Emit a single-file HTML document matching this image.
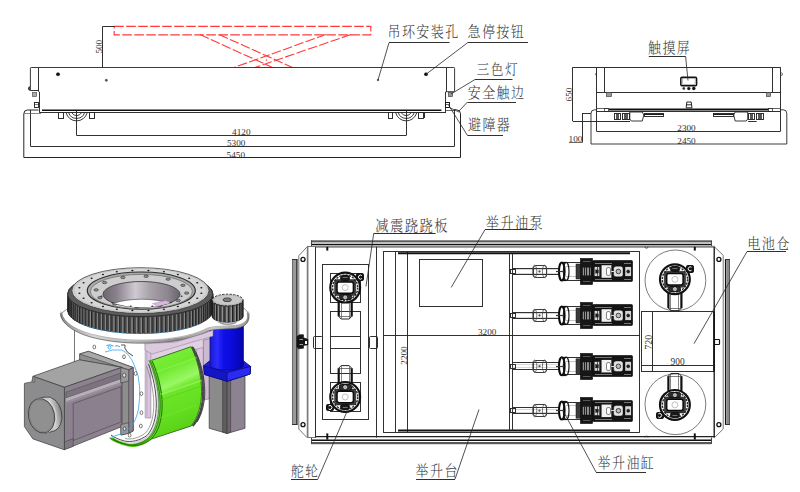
<!DOCTYPE html>
<html lang="zh-CN">
<head>
<meta charset="utf-8">
<title>AGV 举升车外形尺寸图</title>
<style>
html,body{margin:0;padding:0;background:#fff;}
body{width:800px;height:492px;overflow:hidden;font-family:"Liberation Serif","Noto Serif CJK SC",serif;}
svg{display:block;}
text.n{font-family:"Liberation Serif","Noto Serif CJK SC",serif;fill:#333;}
text.z{font-family:"Liberation Serif","Noto Serif CJK SC",serif;fill:#3a3a3a;font-weight:300;}
</style>
</head>
<body>
<svg width="800" height="492" viewBox="0 0 800 492">
<rect width="800" height="492" fill="#ffffff"/>
<g id="elev">
<rect x="114.2" y="26.4" width="256.6" height="8.5" fill="none" stroke="#ff3a3a" stroke-width="1.15" stroke-dasharray="9.6 2.4"/>
<line x1="200.00" y1="34.50" x2="272.50" y2="67.50" stroke="#ff3a3a" stroke-width="1.1" stroke-dasharray="9.6 2.4"/>
<line x1="219.00" y1="34.50" x2="292.50" y2="67.50" stroke="#ff3a3a" stroke-width="1.1" stroke-dasharray="9.6 2.4"/>
<line x1="326.00" y1="34.50" x2="234.00" y2="67.50" stroke="#ff3a3a" stroke-width="1.1" stroke-dasharray="9.6 2.4"/>
<line x1="351.00" y1="34.50" x2="255.00" y2="67.50" stroke="#ff3a3a" stroke-width="1.1" stroke-dasharray="9.6 2.4"/>
<circle cx="266.50" cy="60.00" r="0.60" fill="#ff3a3a" stroke="#ff3a3a" stroke-width="0.3" />
<line x1="102.50" y1="26.40" x2="102.50" y2="67.50" stroke="#262626" stroke-width="0.95" />
<line x1="102.50" y1="26.50" x2="114.50" y2="26.50" stroke="#262626" stroke-width="0.95" />
<text x="101.80" y="46.70" font-size="9.2" text-anchor="middle" class="n" transform="rotate(-90 101.80 46.70)" >500</text>
<path d="M30.4 90.4 L30.4 68.2 Q30.4 67.5 31.2 67.5 L453.8 67.5 Q454.6 67.5 454.6 68.3 L454.6 91 Q454.6 91.7 453.8 91.7 L446 91.7" fill="none" stroke="#262626" stroke-width="0.9" />
<line x1="38.50" y1="67.50" x2="38.50" y2="91.70" stroke="#262626" stroke-width="0.95" />
<line x1="39.50" y1="91.70" x2="39.50" y2="112.80" stroke="#262626" stroke-width="0.95" />
<line x1="30.40" y1="90.50" x2="38.50" y2="90.50" stroke="#262626" stroke-width="0.95" />
<line x1="446.50" y1="67.50" x2="446.50" y2="91.70" stroke="#262626" stroke-width="0.95" />
<line x1="445.50" y1="91.70" x2="445.50" y2="112.80" stroke="#262626" stroke-width="0.95" />
<path d="M30.4 86.6 q-2.6 0.6 -1.8 2.6 q0.6 1.2 1.8 1.2" fill="#555" stroke="#262626" stroke-width="1.0" />
<rect x="32.50" y="92.50" width="4.00" height="4.00" rx="0" fill="#aaa" stroke="#555" stroke-width="0.7" />
<rect x="34.50" y="102.50" width="4.00" height="5.00" rx="0" fill="none" stroke="#262626" stroke-width="0.95" />
<line x1="34.80" y1="104.50" x2="38.40" y2="104.50" stroke="#262626" stroke-width="0.6" />
<rect x="448.50" y="92.50" width="4.00" height="4.00" rx="0" fill="#999" stroke="#444" stroke-width="0.7" />
<rect x="445.50" y="102.50" width="4.00" height="5.00" rx="0" fill="none" stroke="#111" stroke-width="0.95" />
<line x1="445.80" y1="104.50" x2="449.60" y2="104.50" stroke="#262626" stroke-width="0.7" />
<path d="M449.6 107.6 L459 112" fill="none" stroke="#262626" stroke-width="0.8" />
<circle cx="58.00" cy="74.30" r="1.80" fill="#111" stroke="#262626" stroke-width="0.2" />
<circle cx="106.30" cy="80.20" r="1.20" fill="#555" stroke="#262626" stroke-width="0.2" />
<circle cx="378.00" cy="80.00" r="0.90" fill="#333" stroke="#262626" stroke-width="0.2" />
<circle cx="426.00" cy="74.30" r="1.80" fill="#111" stroke="#262626" stroke-width="0.2" />
<line x1="42.00" y1="110.20" x2="441.40" y2="110.20" stroke="#111" stroke-width="1.5" />
<line x1="39.60" y1="112.50" x2="446.00" y2="112.50" stroke="#262626" stroke-width="0.95" />
<path d="M38.5 110 L27.6 110 Q23.8 110 23.8 113.8 L23.8 157.5 L460.5 157.5 L460.5 113.8 Q460.5 110 456.6 109.8 L454.6 109.6" fill="none" stroke="#262626" stroke-width="1.0" />
<line x1="30.50" y1="110.00" x2="30.50" y2="146.20" stroke="#262626" stroke-width="0.95" />
<line x1="24.00" y1="113.50" x2="41.00" y2="113.50" stroke="#555" stroke-width="0.7" />
<line x1="454.50" y1="109.50" x2="454.50" y2="146.20" stroke="#262626" stroke-width="0.95" />
<line x1="30.40" y1="146.50" x2="454.60" y2="146.50" stroke="#262626" stroke-width="0.95" />
<line x1="446.00" y1="110.50" x2="454.60" y2="110.50" stroke="#262626" stroke-width="0.7" />
<path d="M66.07 112.8 A10.9 10.9 0 0 0 87.13 112.8" fill="none" stroke="#262626" stroke-width="0.9" />
<path d="M68.68 112.8 A8.4 8.4 0 0 0 84.52 112.8" fill="none" stroke="#262626" stroke-width="0.9" />
<path d="M71.75 112.8 A5.6 5.6 0 0 0 81.45 112.8" fill="none" stroke="#262626" stroke-width="0.9" />
<rect x="58.50" y="112.50" width="5.00" height="6.00" rx="0" fill="none" stroke="#262626" stroke-width="0.95" />
<rect x="89.50" y="112.50" width="5.00" height="6.00" rx="0" fill="none" stroke="#262626" stroke-width="0.95" />
<line x1="94.50" y1="112.80" x2="94.50" y2="118.00" stroke="#262626" stroke-width="0.95" />
<line x1="76.50" y1="110.50" x2="76.50" y2="135.50" stroke="#262626" stroke-width="0.95" />
<path d="M395.67 112.8 A10.9 10.9 0 0 0 416.73 112.8" fill="none" stroke="#262626" stroke-width="0.9" />
<path d="M398.28 112.8 A8.4 8.4 0 0 0 414.12 112.8" fill="none" stroke="#262626" stroke-width="0.9" />
<path d="M401.35 112.8 A5.6 5.6 0 0 0 411.05 112.8" fill="none" stroke="#262626" stroke-width="0.9" />
<rect x="388.50" y="112.50" width="4.00" height="6.00" rx="0" fill="none" stroke="#262626" stroke-width="0.95" />
<rect x="418.50" y="112.50" width="5.00" height="6.00" rx="0" fill="none" stroke="#262626" stroke-width="0.95" />
<line x1="424.50" y1="112.80" x2="424.50" y2="118.00" stroke="#262626" stroke-width="0.95" />
<line x1="406.50" y1="110.50" x2="406.50" y2="135.50" stroke="#262626" stroke-width="0.95" />
<line x1="76.60" y1="135.50" x2="406.20" y2="135.50" stroke="#262626" stroke-width="0.95" />
<text x="241.30" y="135.10" font-size="9.2" text-anchor="middle" class="n" >4120</text>
<text x="236.20" y="146.40" font-size="9.2" text-anchor="middle" class="n" >5300</text>
<text x="235.80" y="157.80" font-size="9.2" text-anchor="middle" class="n" >5450</text>
<text transform="translate(387.40 37.20) scale(0.9 1)" font-size="14.50" letter-spacing="1.61" class="z">吊环安装孔</text>
<text transform="translate(467.40 37.20) scale(0.9 1)" font-size="14.50" letter-spacing="1.61" class="z">急停按钮</text>
<line x1="389.00" y1="42.50" x2="449.50" y2="42.50" stroke="#262626" stroke-width="0.95" />
<line x1="389.00" y1="42.80" x2="378.00" y2="80.00" stroke="#262626" stroke-width="0.8" />
<line x1="467.50" y1="42.50" x2="528.00" y2="42.50" stroke="#262626" stroke-width="0.95" />
<line x1="467.50" y1="42.80" x2="426.00" y2="74.30" stroke="#262626" stroke-width="0.8" />
<text transform="translate(476.60 74.20) scale(0.9 1)" font-size="14.20" letter-spacing="1.58" class="z">三色灯</text>
<line x1="475.00" y1="79.50" x2="512.50" y2="79.50" stroke="#262626" stroke-width="0.95" />
<line x1="475.00" y1="79.50" x2="451.00" y2="94.00" stroke="#262626" stroke-width="0.8" />
<text transform="translate(467.80 97.60) scale(0.9 1)" font-size="14.40" letter-spacing="1.60" class="z">安全触边</text>
<line x1="467.50" y1="102.50" x2="516.00" y2="102.50" stroke="#262626" stroke-width="0.95" />
<line x1="467.50" y1="102.00" x2="459.00" y2="111.00" stroke="#262626" stroke-width="0.8" />
<text transform="translate(468.00 130.20) scale(0.9 1)" font-size="14.40" letter-spacing="1.60" class="z">避障器</text>
<line x1="467.50" y1="135.50" x2="503.00" y2="135.50" stroke="#262626" stroke-width="0.95" />
<line x1="467.50" y1="135.50" x2="448.50" y2="105.00" stroke="#262626" stroke-width="0.8" />
</g>
<g id="end">
<line x1="572.50" y1="67.30" x2="572.50" y2="121.00" stroke="#262626" stroke-width="0.95" />
<line x1="572.70" y1="67.50" x2="780.60" y2="67.50" stroke="#262626" stroke-width="0.95" />
<line x1="572.70" y1="121.50" x2="630.00" y2="121.50" stroke="#262626" stroke-width="0.95" />
<text x="572.00" y="94.50" font-size="9.2" text-anchor="middle" class="n" transform="rotate(-90 572.00 94.50)" >650</text>
<line x1="582.50" y1="113.00" x2="582.50" y2="142.60" stroke="#262626" stroke-width="0.95" />
<line x1="582.00" y1="113.50" x2="591.00" y2="113.50" stroke="#262626" stroke-width="0.95" />
<line x1="569.00" y1="142.50" x2="582.00" y2="142.50" stroke="#262626" stroke-width="0.7" />
<text x="575.50" y="142.30" font-size="9.2" text-anchor="middle" class="n" >100</text>
<line x1="596.50" y1="67.30" x2="596.50" y2="131.20" stroke="#262626" stroke-width="0.95" />
<line x1="780.50" y1="67.30" x2="780.50" y2="131.20" stroke="#262626" stroke-width="0.95" />
<line x1="604.50" y1="67.30" x2="604.50" y2="92.00" stroke="#262626" stroke-width="0.95" />
<line x1="772.50" y1="67.30" x2="772.50" y2="92.00" stroke="#262626" stroke-width="0.95" />
<line x1="596.50" y1="92.50" x2="780.60" y2="92.50" stroke="#262626" stroke-width="0.95" />
<rect x="606.50" y="92.50" width="5.00" height="4.00" rx="0" fill="#9a9a9a" stroke="#444" stroke-width="0.7" />
<rect x="766.50" y="92.50" width="4.00" height="4.00" rx="0" fill="#9a9a9a" stroke="#444" stroke-width="0.7" />
<path d="M596.5 72.5 q-1.6 1.5 0 3.4" fill="none" stroke="#262626" stroke-width="0.8" />
<path d="M781.6 72.5 q1.6 1.5 0 3.4" fill="none" stroke="#262626" stroke-width="0.8" />
<rect x="680.80" y="77.30" width="15.80" height="8.50" rx="1.2" fill="none" stroke="#111" stroke-width="1.5" />
<rect x="682.30" y="78.60" width="12.80" height="5.90" rx="0" fill="none" stroke="#777" stroke-width="0.5" />
<circle cx="683.80" cy="88.40" r="1.20" fill="#333" stroke="#262626" stroke-width="0.3" />
<circle cx="688.80" cy="88.40" r="1.50" fill="#111" stroke="#262626" stroke-width="0.3" />
<circle cx="693.80" cy="88.40" r="1.60" fill="#111" stroke="#262626" stroke-width="0.3" />
<path d="M686.2 107.8 L686.8 102 L691.2 102 L692 107.8 Z M686.6 104.8 L691.6 104.8" fill="none" stroke="#262626" stroke-width="1.0" />
<line x1="608.80" y1="109.40" x2="768.40" y2="109.40" stroke="#111" stroke-width="2.0" />
<line x1="597.00" y1="111.50" x2="780.60" y2="111.50" stroke="#262626" stroke-width="0.95" />
<line x1="597.00" y1="108.50" x2="608.80" y2="108.50" stroke="#262626" stroke-width="0.7" />
<line x1="768.40" y1="108.50" x2="780.60" y2="108.50" stroke="#262626" stroke-width="0.7" />
<rect x="604.50" y="108.50" width="4.00" height="3.00" rx="0" fill="none" stroke="#262626" stroke-width="0.7" />
<rect x="768.50" y="108.50" width="4.00" height="3.00" rx="0" fill="none" stroke="#262626" stroke-width="0.7" />
<path d="M597 109.8 L594.5 109.8 Q591 109.8 591 113.5 L591 144 L786.8 144 L786.8 113.5 Q786.8 109.8 783.3 109.8 L781 109.8" fill="none" stroke="#262626" stroke-width="0.9" />
<line x1="596.50" y1="131.50" x2="780.60" y2="131.50" stroke="#262626" stroke-width="0.95" />
<rect x="614.50" y="113.50" width="6.00" height="6.00" rx="0" fill="none" stroke="#262626" stroke-width="0.95" />
<rect x="616.50" y="113.50" width="2.00" height="6.00" rx="0" fill="#555" stroke="#262626" stroke-width="0.6" />
<rect x="622.50" y="113.50" width="7.00" height="6.00" rx="0" fill="none" stroke="#262626" stroke-width="0.95" />
<rect x="624.50" y="113.50" width="3.00" height="6.00" rx="0" fill="#555" stroke="#262626" stroke-width="0.6" />
<line x1="620.80" y1="121.50" x2="629.30" y2="121.50" stroke="#262626" stroke-width="0.95" />
<path d="M629.80 112 L642.30 112 L643.80 115 L642.30 121 L631.30 121 L629.80 119 Z" fill="none" stroke="#262626" stroke-width="0.9" />
<rect x="644.50" y="113.50" width="19.00" height="3.00" rx="0" fill="none" stroke="#262626" stroke-width="0.95" />
<line x1="644.30" y1="114.50" x2="663.80" y2="114.50" stroke="#111" stroke-width="0.95" />
<rect x="756.50" y="113.50" width="7.00" height="6.00" rx="0" fill="none" stroke="#262626" stroke-width="0.95" />
<rect x="758.50" y="113.50" width="3.00" height="6.00" rx="0" fill="#555" stroke="#262626" stroke-width="0.6" />
<rect x="748.50" y="113.50" width="6.00" height="6.00" rx="0" fill="none" stroke="#262626" stroke-width="0.95" />
<rect x="750.50" y="113.50" width="2.00" height="6.00" rx="0" fill="#555" stroke="#262626" stroke-width="0.6" />
<line x1="756.70" y1="121.50" x2="748.20" y2="121.50" stroke="#262626" stroke-width="0.95" />
<path d="M747.70 112 L735.20 112 L733.70 115 L735.20 121 L746.20 121 L747.70 119 Z" fill="none" stroke="#262626" stroke-width="0.9" />
<rect x="713.50" y="113.50" width="20.00" height="3.00" rx="0" fill="none" stroke="#262626" stroke-width="0.95" />
<line x1="733.20" y1="114.50" x2="713.70" y2="114.50" stroke="#111" stroke-width="0.95" />
<text x="686.50" y="131.00" font-size="9.2" text-anchor="middle" class="n" >2300</text>
<text x="686.50" y="143.60" font-size="9.2" text-anchor="middle" class="n" >2450</text>
<text transform="translate(648.00 52.60) scale(0.9 1)" font-size="14.40" letter-spacing="1.60" class="z">触摸屏</text>
<line x1="648.80" y1="56.50" x2="685.60" y2="56.50" stroke="#262626" stroke-width="0.95" />
<line x1="685.60" y1="56.40" x2="688.00" y2="80.50" stroke="#262626" stroke-width="0.8" />
</g>
<g id="plan">
<rect x="311.20" y="240.30" width="399.80" height="2.10" rx="0" fill="#5a5a5a" stroke="none" stroke-width="0.01" />
<line x1="311.20" y1="244.40" x2="711.00" y2="244.40" stroke="#111" stroke-width="1.5" />
<line x1="311.50" y1="240.30" x2="311.50" y2="246.80" stroke="#444" stroke-width="1.0" />
<line x1="711.50" y1="240.30" x2="711.50" y2="246.80" stroke="#444" stroke-width="1.0" />
<rect x="311.20" y="442.00" width="399.80" height="2.20" rx="0" fill="#5a5a5a" stroke="none" stroke-width="0.01" />
<line x1="311.20" y1="440.30" x2="711.00" y2="440.30" stroke="#111" stroke-width="1.6" />
<line x1="311.50" y1="437.60" x2="311.50" y2="444.00" stroke="#444" stroke-width="1.0" />
<line x1="711.50" y1="437.60" x2="711.50" y2="444.00" stroke="#444" stroke-width="1.0" />
<path d="M307 246.9 L298.8 255.7 L298.8 429 L307 437.6" fill="none" stroke="#777" stroke-width="1.0" />
<path d="M714.5 246.9 L723.2 255.3 L723.2 429 L714.5 437.6" fill="none" stroke="#777" stroke-width="1.0" />
<line x1="307.00" y1="246.50" x2="315.50" y2="246.50" stroke="#777" stroke-width="1.0" />
<line x1="307.00" y1="437.50" x2="315.50" y2="437.50" stroke="#777" stroke-width="1.0" />
<line x1="315.50" y1="246.70" x2="714.50" y2="246.70" stroke="#858585" stroke-width="2.0" />
<line x1="315.50" y1="436.60" x2="714.50" y2="436.60" stroke="#222" stroke-width="1.3" />
<line x1="307.60" y1="246.80" x2="307.60" y2="437.60" stroke="#7a7a7a" stroke-width="1.7" />
<line x1="315.50" y1="246.80" x2="315.50" y2="437.60" stroke="#222" stroke-width="0.95" />
<line x1="714.20" y1="246.80" x2="714.20" y2="437.60" stroke="#111" stroke-width="1.3" />
<rect x="292.00" y="259.20" width="4.40" height="165.50" rx="0" fill="#9a9a9a" stroke="none" stroke-width="0.01" />
<line x1="292.50" y1="259.20" x2="292.50" y2="424.70" stroke="#666" stroke-width="0.95" />
<line x1="296.90" y1="259.20" x2="296.90" y2="424.70" stroke="#111" stroke-width="1.3" />
<line x1="292.00" y1="259.50" x2="297.50" y2="259.50" stroke="#333" stroke-width="1.0" />
<line x1="292.00" y1="424.50" x2="297.50" y2="424.50" stroke="#333" stroke-width="1.0" />
<rect x="726.30" y="259.20" width="3.60" height="165.50" rx="0" fill="#8a8a8a" stroke="none" stroke-width="0.01" />
<line x1="725.50" y1="259.20" x2="725.50" y2="424.70" stroke="#111" stroke-width="1.2" />
<line x1="729.50" y1="259.20" x2="729.50" y2="424.70" stroke="#555" stroke-width="0.95" />
<line x1="725.00" y1="259.50" x2="730.00" y2="259.50" stroke="#333" stroke-width="1.0" />
<line x1="725.00" y1="424.50" x2="730.00" y2="424.50" stroke="#333" stroke-width="1.0" />
<circle cx="303.00" cy="259.40" r="2.00" fill="#fff" stroke="#111" stroke-width="1.3" />
<circle cx="303.00" cy="424.70" r="2.00" fill="#fff" stroke="#111" stroke-width="1.3" />
<circle cx="718.90" cy="259.40" r="2.00" fill="#fff" stroke="#111" stroke-width="1.3" />
<circle cx="718.90" cy="424.70" r="2.00" fill="#fff" stroke="#111" stroke-width="1.3" />
<line x1="327.30" y1="246.80" x2="327.30" y2="250.60" stroke="#111" stroke-width="2.0" />
<line x1="327.30" y1="433.40" x2="327.30" y2="439.60" stroke="#111" stroke-width="2.0" />
<line x1="694.80" y1="246.80" x2="694.80" y2="250.60" stroke="#111" stroke-width="2.0" />
<line x1="694.80" y1="433.40" x2="694.80" y2="439.60" stroke="#111" stroke-width="2.0" />
<path d="M645.0 246.8 a1.5 1.5 0 0 0 3 0" fill="none" stroke="#262626" stroke-width="0.7" />
<path d="M645.0 437.6 a1.5 1.5 0 0 1 3 0" fill="none" stroke="#262626" stroke-width="0.7" />
<path d="M297 336.5 l2.5 -1.8 l4 0 l0 3 l4.3 1.6 l0 5.5 l-4.3 0.8 l0 2.6 l-5 0.6 l-1.5 -2 Z" fill="#151515" stroke="#111" stroke-width="0.6" />
<rect x="304.50" y="340.50" width="3.00" height="4.00" rx="0" fill="#fff" stroke="#111" stroke-width="0.95" />
<line x1="299.50" y1="339.50" x2="303.00" y2="339.50" stroke="#ddd" stroke-width="0.7" />
<line x1="299.50" y1="344.50" x2="303.00" y2="344.50" stroke="#ddd" stroke-width="0.7" />
<rect x="322.50" y="264.50" width="46.00" height="155.00" rx="0" fill="none" stroke="#262626" stroke-width="0.95" />
<line x1="376.50" y1="246.80" x2="376.50" y2="437.60" stroke="#262626" stroke-width="0.95" />
<line x1="383.50" y1="251.40" x2="383.50" y2="432.40" stroke="#262626" stroke-width="0.95" />
<rect x="330.50" y="311.50" width="30.00" height="62.00" rx="0" fill="none" stroke="#262626" stroke-width="0.95" />
<line x1="330.40" y1="336.50" x2="360.90" y2="336.50" stroke="#262626" stroke-width="0.95" />
<line x1="330.40" y1="348.50" x2="360.90" y2="348.50" stroke="#262626" stroke-width="0.95" />
<rect x="313.50" y="336.50" width="9.00" height="12.00" rx="1" fill="none" stroke="#262626" stroke-width="0.95" />
<rect x="369.50" y="336.50" width="8.00" height="12.00" rx="1" fill="none" stroke="#262626" stroke-width="0.95" />
<line x1="395.50" y1="251.50" x2="395.50" y2="432.00" stroke="#262626" stroke-width="0.95" />
<line x1="407.50" y1="251.50" x2="407.50" y2="432.00" stroke="#262626" stroke-width="0.95" />
<line x1="383.10" y1="251.50" x2="639.80" y2="251.50" stroke="#262626" stroke-width="0.95" />
<line x1="383.10" y1="432.50" x2="639.80" y2="432.50" stroke="#262626" stroke-width="0.95" />
<line x1="398.00" y1="253.20" x2="630.00" y2="253.20" stroke="#111" stroke-width="2.0" />
<line x1="398.00" y1="430.60" x2="630.00" y2="430.60" stroke="#111" stroke-width="2.0" />
<line x1="639.50" y1="251.50" x2="639.50" y2="432.30" stroke="#262626" stroke-width="0.95" />
<line x1="383.80" y1="335.50" x2="639.80" y2="335.50" stroke="#262626" stroke-width="0.95" />
<line x1="509.50" y1="253.40" x2="509.50" y2="430.60" stroke="#262626" stroke-width="0.95" />
<line x1="512.50" y1="253.40" x2="512.50" y2="430.60" stroke="#262626" stroke-width="0.95" />
<text x="487.20" y="334.60" font-size="9.2" text-anchor="middle" class="n" >3200</text>
<text x="407.30" y="355.50" font-size="9.2" text-anchor="middle" class="n" transform="rotate(-90 407.30 355.50)" >2200</text>
<rect x="419.50" y="259.50" width="63.00" height="47.00" rx="0" fill="none" stroke="#262626" stroke-width="0.95" />
<rect x="330.50" y="273.50" width="30.00" height="29.00" rx="0" fill="none" stroke="#262626" stroke-width="0.95" />
<line x1="338.70" y1="300.60" x2="338.70" y2="316.40" stroke="#111" stroke-width="2.2" />
<line x1="351.70" y1="300.60" x2="351.70" y2="316.40" stroke="#111" stroke-width="2.2" />
<line x1="341.50" y1="301.60" x2="341.50" y2="318.60" stroke="#555" stroke-width="0.7" />
<line x1="349.50" y1="301.60" x2="349.50" y2="318.60" stroke="#555" stroke-width="0.7" />
<path d="M338.7 316.40000000000003 L341.2 319.0 L349.2 319.0 L351.7 316.40000000000003" fill="none" stroke="#222" stroke-width="1.0" />
<line x1="338.70" y1="316.50" x2="351.70" y2="316.50" stroke="#444" stroke-width="0.7" />
<circle cx="345.20" cy="287.60" r="14.90" fill="#fff" stroke="#111" stroke-width="2.2" />
<circle cx="345.20" cy="287.60" r="12.60" fill="none" stroke="#2a2a2a" stroke-width="1.4" stroke-dasharray="2.2 1.1"/>
<rect x="334.60" y="279.60" width="21.20" height="16.00" rx="2.5" fill="#3c3c3c" stroke="#111" stroke-width="0.5" />
<rect x="337.00" y="281.90" width="16.40" height="11.40" rx="2.2" fill="#fff" stroke="#0c0c0c" stroke-width="1.5" />
<circle cx="345.20" cy="287.60" r="3.00" fill="none" stroke="#999" stroke-width="0.6" />
<rect x="340.50" y="275.50" width="9.00" height="5.00" rx="2.2" fill="#1a1a1a" stroke="#111" stroke-width="0.95" />
<line x1="342.70" y1="277.50" x2="347.70" y2="277.50" stroke="#aaa" stroke-width="0.6" />
<rect x="339.50" y="294.50" width="12.00" height="5.00" rx="2" fill="#2a2a2a" stroke="#111" stroke-width="0.95" />
<circle cx="345.20" cy="297.40" r="1.60" fill="#aaa" stroke="#eee" stroke-width="0.6" />
<rect x="356.50" y="273.50" width="7.00" height="7.00" rx="1.2" fill="#161616" stroke="#111" stroke-width="1.0" />
<path d="M361.80 275.60 A2 2 0 1 0 361.80 278.60" fill="none" stroke="#fff" stroke-width="1.0" />
<rect x="330.50" y="382.50" width="30.00" height="29.00" rx="0" fill="none" stroke="#262626" stroke-width="0.95" />
<line x1="338.70" y1="384.00" x2="338.70" y2="368.20" stroke="#111" stroke-width="2.2" />
<line x1="351.70" y1="384.00" x2="351.70" y2="368.20" stroke="#111" stroke-width="2.2" />
<line x1="341.50" y1="383.00" x2="341.50" y2="366.00" stroke="#555" stroke-width="0.7" />
<line x1="349.50" y1="383.00" x2="349.50" y2="366.00" stroke="#555" stroke-width="0.7" />
<path d="M338.7 368.2 L341.2 365.6 L349.2 365.6 L351.7 368.2" fill="none" stroke="#222" stroke-width="1.0" />
<line x1="338.70" y1="368.50" x2="351.70" y2="368.50" stroke="#444" stroke-width="0.7" />
<circle cx="345.20" cy="397.00" r="14.90" fill="#fff" stroke="#111" stroke-width="2.2" />
<circle cx="345.20" cy="397.00" r="12.60" fill="none" stroke="#2a2a2a" stroke-width="1.4" stroke-dasharray="2.2 1.1"/>
<rect x="334.60" y="389.00" width="21.20" height="16.00" rx="2.5" fill="#3c3c3c" stroke="#111" stroke-width="0.5" />
<rect x="337.00" y="391.30" width="16.40" height="11.40" rx="2.2" fill="#fff" stroke="#0c0c0c" stroke-width="1.5" />
<circle cx="345.20" cy="397.00" r="3.00" fill="none" stroke="#999" stroke-width="0.6" />
<rect x="340.50" y="404.50" width="9.00" height="5.00" rx="2.2" fill="#1a1a1a" stroke="#111" stroke-width="0.95" />
<line x1="342.70" y1="407.50" x2="347.70" y2="407.50" stroke="#aaa" stroke-width="0.6" />
<rect x="339.50" y="384.50" width="12.00" height="6.00" rx="2" fill="#2a2a2a" stroke="#111" stroke-width="0.95" />
<circle cx="345.20" cy="387.20" r="1.60" fill="#aaa" stroke="#eee" stroke-width="0.6" />
<rect x="326.50" y="404.50" width="7.00" height="6.00" rx="1.2" fill="#161616" stroke="#111" stroke-width="1.0" />
<path d="M328.60 409.00 A2 2 0 1 0 328.60 406.00" fill="none" stroke="#fff" stroke-width="1.0" />
<circle cx="675.40" cy="280.40" r="30.40" fill="none" stroke="#444" stroke-width="0.7" />
<circle cx="675.40" cy="404.20" r="30.40" fill="none" stroke="#444" stroke-width="0.7" />
<line x1="668.40" y1="292.30" x2="668.40" y2="308.10" stroke="#111" stroke-width="2.2" />
<line x1="681.40" y1="292.30" x2="681.40" y2="308.10" stroke="#111" stroke-width="2.2" />
<line x1="670.50" y1="293.30" x2="670.50" y2="310.30" stroke="#555" stroke-width="0.7" />
<line x1="678.50" y1="293.30" x2="678.50" y2="310.30" stroke="#555" stroke-width="0.7" />
<path d="M668.4 308.1 L670.9 310.7 L678.9 310.7 L681.4 308.1" fill="none" stroke="#222" stroke-width="1.0" />
<line x1="668.40" y1="308.50" x2="681.40" y2="308.50" stroke="#444" stroke-width="0.7" />
<circle cx="674.90" cy="279.30" r="14.90" fill="#fff" stroke="#111" stroke-width="2.2" />
<circle cx="674.90" cy="279.30" r="12.60" fill="none" stroke="#2a2a2a" stroke-width="1.4" stroke-dasharray="2.2 1.1"/>
<rect x="664.30" y="271.30" width="21.20" height="16.00" rx="2.5" fill="#3c3c3c" stroke="#111" stroke-width="0.5" />
<rect x="666.70" y="273.60" width="16.40" height="11.40" rx="2.2" fill="#fff" stroke="#0c0c0c" stroke-width="1.5" />
<circle cx="674.90" cy="279.30" r="3.00" fill="none" stroke="#999" stroke-width="0.6" />
<rect x="670.50" y="266.50" width="9.00" height="5.00" rx="2.2" fill="#1a1a1a" stroke="#111" stroke-width="0.95" />
<line x1="672.40" y1="268.50" x2="677.40" y2="268.50" stroke="#aaa" stroke-width="0.6" />
<rect x="668.50" y="286.50" width="12.00" height="5.00" rx="2" fill="#2a2a2a" stroke="#111" stroke-width="0.95" />
<circle cx="674.90" cy="289.10" r="1.60" fill="#aaa" stroke="#eee" stroke-width="0.6" />
<rect x="686.50" y="265.50" width="7.00" height="7.00" rx="1.2" fill="#161616" stroke="#111" stroke-width="1.0" />
<path d="M691.50 267.30 A2 2 0 1 0 691.50 270.30" fill="none" stroke="#fff" stroke-width="1.0" />
<line x1="668.40" y1="391.90" x2="668.40" y2="376.10" stroke="#111" stroke-width="2.2" />
<line x1="681.40" y1="391.90" x2="681.40" y2="376.10" stroke="#111" stroke-width="2.2" />
<line x1="670.50" y1="390.90" x2="670.50" y2="373.90" stroke="#555" stroke-width="0.7" />
<line x1="678.50" y1="390.90" x2="678.50" y2="373.90" stroke="#555" stroke-width="0.7" />
<path d="M668.4 376.09999999999997 L670.9 373.5 L678.9 373.5 L681.4 376.09999999999997" fill="none" stroke="#222" stroke-width="1.0" />
<line x1="668.40" y1="376.50" x2="681.40" y2="376.50" stroke="#444" stroke-width="0.7" />
<circle cx="674.90" cy="404.90" r="14.90" fill="#fff" stroke="#111" stroke-width="2.2" />
<circle cx="674.90" cy="404.90" r="12.60" fill="none" stroke="#2a2a2a" stroke-width="1.4" stroke-dasharray="2.2 1.1"/>
<rect x="664.30" y="396.90" width="21.20" height="16.00" rx="2.5" fill="#3c3c3c" stroke="#111" stroke-width="0.5" />
<rect x="666.70" y="399.20" width="16.40" height="11.40" rx="2.2" fill="#fff" stroke="#0c0c0c" stroke-width="1.5" />
<circle cx="674.90" cy="404.90" r="3.00" fill="none" stroke="#999" stroke-width="0.6" />
<rect x="670.50" y="412.50" width="9.00" height="5.00" rx="2.2" fill="#1a1a1a" stroke="#111" stroke-width="0.95" />
<line x1="672.40" y1="415.50" x2="677.40" y2="415.50" stroke="#aaa" stroke-width="0.6" />
<rect x="668.50" y="392.50" width="12.00" height="5.00" rx="2" fill="#2a2a2a" stroke="#111" stroke-width="0.95" />
<circle cx="674.90" cy="395.10" r="1.60" fill="#aaa" stroke="#eee" stroke-width="0.6" />
<rect x="656.50" y="412.50" width="7.00" height="6.00" rx="1.2" fill="#161616" stroke="#111" stroke-width="1.0" />
<path d="M658.30 416.90 A2 2 0 1 0 658.30 413.90" fill="none" stroke="#fff" stroke-width="1.0" />
<rect x="641.50" y="311.50" width="73.00" height="60.00" rx="0" fill="#fff" stroke="#262626" stroke-width="0.95" />
<line x1="714.00" y1="311.80" x2="714.00" y2="371.60" stroke="#111" stroke-width="1.8" />
<line x1="652.50" y1="311.80" x2="652.50" y2="371.60" stroke="#262626" stroke-width="0.95" />
<line x1="641.60" y1="365.50" x2="714.20" y2="365.50" stroke="#262626" stroke-width="0.95" />
<rect x="714.50" y="339.50" width="5.00" height="5.00" rx="0.8" fill="none" stroke="#111" stroke-width="1.2" />
<text x="652.00" y="342.20" font-size="10" text-anchor="middle" class="n" transform="rotate(-90 652.00 342.20)" >720</text>
<text x="677.60" y="365.20" font-size="9.4" text-anchor="middle" class="n" >900</text>
<line x1="512.40" y1="268.50" x2="560.00" y2="268.50" stroke="#262626" stroke-width="0.95" />
<line x1="512.40" y1="274.50" x2="560.00" y2="274.50" stroke="#262626" stroke-width="0.95" />
<line x1="512.40" y1="269.50" x2="560.00" y2="269.50" stroke="#999" stroke-width="0.4" />
<line x1="512.40" y1="273.50" x2="560.00" y2="273.50" stroke="#999" stroke-width="0.4" />
<rect x="510.50" y="269.50" width="5.00" height="4.00" rx="0" fill="none" stroke="#262626" stroke-width="0.95" />
<rect x="533.50" y="265.50" width="13.00" height="12.00" rx="2.5" fill="none" stroke="#333" stroke-width="0.95" />
<ellipse cx="534.6" cy="271.4" rx="2.2" ry="6.2" fill="none" stroke="#444" stroke-width="0.7"/>
<ellipse cx="544.6" cy="271.4" rx="2.2" ry="6.2" fill="none" stroke="#444" stroke-width="0.7"/>
<circle cx="539.50" cy="271.40" r="0.90" fill="#555" stroke="#262626" stroke-width="0.3" />
<line x1="563.00" y1="262.50" x2="581.00" y2="262.50" stroke="#262626" stroke-width="0.95" />
<line x1="563.00" y1="280.50" x2="581.00" y2="280.50" stroke="#262626" stroke-width="0.95" />
<line x1="566.00" y1="266.50" x2="581.00" y2="266.50" stroke="#888" stroke-width="0.5" />
<line x1="566.00" y1="276.50" x2="581.00" y2="276.50" stroke="#888" stroke-width="0.5" />
<ellipse cx="561.8" cy="271.4" rx="2.8" ry="9" fill="none" stroke="#0a0a0a" stroke-width="2.0"/>
<ellipse cx="566.2" cy="271.4" rx="2.8" ry="9" fill="none" stroke="#1a1a1a" stroke-width="1.2"/>
<rect x="576.00" y="264.00" width="4.40" height="15.00" rx="0" fill="#3a3a3a" stroke="#111" stroke-width="0.5" />
<line x1="561.80" y1="262.50" x2="566.20" y2="262.50" stroke="#111" stroke-width="1.2" />
<line x1="561.80" y1="280.50" x2="566.20" y2="280.50" stroke="#111" stroke-width="1.2" />
<line x1="556.00" y1="271.50" x2="564.00" y2="271.50" stroke="#333" stroke-width="1.2" />
<rect x="580.50" y="258.50" width="12.00" height="26.00" rx="0" fill="#161616" stroke="#000" stroke-width="0.6" />
<rect x="592.50" y="260.50" width="40.00" height="21.00" rx="1" fill="#141414" stroke="#000" stroke-width="0.6" />
<line x1="583.00" y1="261.50" x2="590.50" y2="261.50" stroke="#999" stroke-width="0.5" />
<line x1="583.00" y1="281.50" x2="590.50" y2="281.50" stroke="#999" stroke-width="0.5" />
<line x1="595.00" y1="263.50" x2="612.00" y2="263.50" stroke="#bbb" stroke-width="0.6" />
<line x1="595.00" y1="279.50" x2="612.00" y2="279.50" stroke="#bbb" stroke-width="0.6" />
<line x1="624.00" y1="263.50" x2="631.00" y2="263.50" stroke="#bbb" stroke-width="0.6" />
<line x1="624.00" y1="279.50" x2="631.00" y2="279.50" stroke="#bbb" stroke-width="0.6" />
<rect x="582.50" y="267.20" width="8.50" height="8.60" rx="0" fill="#8f8f8f" stroke="#000" stroke-width="0.4" />
<line x1="584.50" y1="267.20" x2="584.50" y2="275.80" stroke="#1a1a1a" stroke-width="0.95" />
<line x1="586.50" y1="267.20" x2="586.50" y2="275.80" stroke="#1a1a1a" stroke-width="0.95" />
<line x1="589.50" y1="267.20" x2="589.50" y2="275.80" stroke="#1a1a1a" stroke-width="0.95" />
<rect x="594.20" y="266.80" width="5.40" height="9.40" rx="0" fill="#d8d8d8" stroke="#000" stroke-width="0.4" />
<rect x="595.60" y="269.90" width="2.80" height="3.20" rx="0" fill="#1a1a1a" stroke="#000" stroke-width="0.3" />
<line x1="597.50" y1="266.80" x2="597.50" y2="276.20" stroke="#222" stroke-width="0.7" />
<rect x="601.20" y="265.00" width="10.40" height="13.00" rx="0" fill="#f2f2f2" stroke="#000" stroke-width="0.4" />
<rect x="606.50" y="267.50" width="4.00" height="8.00" rx="1.6" fill="#fff" stroke="#333" stroke-width="0.6" />
<rect x="613.60" y="266.20" width="9.40" height="10.60" rx="2.5" fill="#e4e4e4" stroke="#000" stroke-width="0.4" />
<circle cx="618.40" cy="271.50" r="2.30" fill="#bbb" stroke="#222" stroke-width="0.8" />
<line x1="611.20" y1="271.50" x2="614.00" y2="271.50" stroke="#ddd" stroke-width="1" />
<rect x="625.00" y="266.80" width="6.20" height="9.40" rx="0" fill="#d4d4d4" stroke="#000" stroke-width="0.4" />
<circle cx="628.20" cy="271.50" r="1.50" fill="#222" stroke="#000" stroke-width="0.5" />
<line x1="512.40" y1="312.50" x2="560.00" y2="312.50" stroke="#262626" stroke-width="0.95" />
<line x1="512.40" y1="318.50" x2="560.00" y2="318.50" stroke="#262626" stroke-width="0.95" />
<line x1="512.40" y1="313.50" x2="560.00" y2="313.50" stroke="#999" stroke-width="0.4" />
<line x1="512.40" y1="317.50" x2="560.00" y2="317.50" stroke="#999" stroke-width="0.4" />
<rect x="510.50" y="313.50" width="5.00" height="4.00" rx="0" fill="none" stroke="#262626" stroke-width="0.95" />
<rect x="533.50" y="309.50" width="13.00" height="12.00" rx="2.5" fill="none" stroke="#333" stroke-width="0.95" />
<ellipse cx="534.6" cy="315.4" rx="2.2" ry="6.2" fill="none" stroke="#444" stroke-width="0.7"/>
<ellipse cx="544.6" cy="315.4" rx="2.2" ry="6.2" fill="none" stroke="#444" stroke-width="0.7"/>
<circle cx="539.50" cy="315.40" r="0.90" fill="#555" stroke="#262626" stroke-width="0.3" />
<line x1="563.00" y1="306.50" x2="581.00" y2="306.50" stroke="#262626" stroke-width="0.95" />
<line x1="563.00" y1="324.50" x2="581.00" y2="324.50" stroke="#262626" stroke-width="0.95" />
<line x1="566.00" y1="310.50" x2="581.00" y2="310.50" stroke="#888" stroke-width="0.5" />
<line x1="566.00" y1="320.50" x2="581.00" y2="320.50" stroke="#888" stroke-width="0.5" />
<ellipse cx="561.8" cy="315.4" rx="2.8" ry="9" fill="none" stroke="#0a0a0a" stroke-width="2.0"/>
<ellipse cx="566.2" cy="315.4" rx="2.8" ry="9" fill="none" stroke="#1a1a1a" stroke-width="1.2"/>
<rect x="576.00" y="308.00" width="4.40" height="15.00" rx="0" fill="#3a3a3a" stroke="#111" stroke-width="0.5" />
<line x1="561.80" y1="306.50" x2="566.20" y2="306.50" stroke="#111" stroke-width="1.2" />
<line x1="561.80" y1="324.50" x2="566.20" y2="324.50" stroke="#111" stroke-width="1.2" />
<line x1="556.00" y1="315.50" x2="564.00" y2="315.50" stroke="#333" stroke-width="1.2" />
<rect x="580.50" y="302.50" width="12.00" height="26.00" rx="0" fill="#161616" stroke="#000" stroke-width="0.6" />
<rect x="592.50" y="304.50" width="40.00" height="21.00" rx="1" fill="#141414" stroke="#000" stroke-width="0.6" />
<line x1="583.00" y1="305.50" x2="590.50" y2="305.50" stroke="#999" stroke-width="0.5" />
<line x1="583.00" y1="325.50" x2="590.50" y2="325.50" stroke="#999" stroke-width="0.5" />
<line x1="595.00" y1="307.50" x2="612.00" y2="307.50" stroke="#bbb" stroke-width="0.6" />
<line x1="595.00" y1="323.50" x2="612.00" y2="323.50" stroke="#bbb" stroke-width="0.6" />
<line x1="624.00" y1="307.50" x2="631.00" y2="307.50" stroke="#bbb" stroke-width="0.6" />
<line x1="624.00" y1="323.50" x2="631.00" y2="323.50" stroke="#bbb" stroke-width="0.6" />
<rect x="582.50" y="311.20" width="8.50" height="8.60" rx="0" fill="#8f8f8f" stroke="#000" stroke-width="0.4" />
<line x1="584.50" y1="311.20" x2="584.50" y2="319.80" stroke="#1a1a1a" stroke-width="0.95" />
<line x1="586.50" y1="311.20" x2="586.50" y2="319.80" stroke="#1a1a1a" stroke-width="0.95" />
<line x1="589.50" y1="311.20" x2="589.50" y2="319.80" stroke="#1a1a1a" stroke-width="0.95" />
<rect x="594.20" y="310.80" width="5.40" height="9.40" rx="0" fill="#d8d8d8" stroke="#000" stroke-width="0.4" />
<rect x="595.60" y="313.90" width="2.80" height="3.20" rx="0" fill="#1a1a1a" stroke="#000" stroke-width="0.3" />
<line x1="597.50" y1="310.80" x2="597.50" y2="320.20" stroke="#222" stroke-width="0.7" />
<rect x="601.20" y="309.00" width="10.40" height="13.00" rx="0" fill="#f2f2f2" stroke="#000" stroke-width="0.4" />
<rect x="606.50" y="311.50" width="4.00" height="8.00" rx="1.6" fill="#fff" stroke="#333" stroke-width="0.6" />
<rect x="613.60" y="310.20" width="9.40" height="10.60" rx="2.5" fill="#e4e4e4" stroke="#000" stroke-width="0.4" />
<circle cx="618.40" cy="315.50" r="2.30" fill="#bbb" stroke="#222" stroke-width="0.8" />
<line x1="611.20" y1="315.50" x2="614.00" y2="315.50" stroke="#ddd" stroke-width="1" />
<rect x="625.00" y="310.80" width="6.20" height="9.40" rx="0" fill="#d4d4d4" stroke="#000" stroke-width="0.4" />
<circle cx="628.20" cy="315.50" r="1.50" fill="#222" stroke="#000" stroke-width="0.5" />
<line x1="512.40" y1="362.50" x2="560.00" y2="362.50" stroke="#262626" stroke-width="0.95" />
<line x1="512.40" y1="369.50" x2="560.00" y2="369.50" stroke="#262626" stroke-width="0.95" />
<line x1="512.40" y1="364.50" x2="560.00" y2="364.50" stroke="#999" stroke-width="0.4" />
<line x1="512.40" y1="367.50" x2="560.00" y2="367.50" stroke="#999" stroke-width="0.4" />
<rect x="510.50" y="364.50" width="5.00" height="4.00" rx="0" fill="none" stroke="#262626" stroke-width="0.95" />
<rect x="533.50" y="360.50" width="13.00" height="12.00" rx="2.5" fill="none" stroke="#333" stroke-width="0.95" />
<ellipse cx="534.6" cy="366.2" rx="2.2" ry="6.2" fill="none" stroke="#444" stroke-width="0.7"/>
<ellipse cx="544.6" cy="366.2" rx="2.2" ry="6.2" fill="none" stroke="#444" stroke-width="0.7"/>
<circle cx="539.50" cy="366.20" r="0.90" fill="#555" stroke="#262626" stroke-width="0.3" />
<line x1="563.00" y1="357.50" x2="581.00" y2="357.50" stroke="#262626" stroke-width="0.95" />
<line x1="563.00" y1="374.50" x2="581.00" y2="374.50" stroke="#262626" stroke-width="0.95" />
<line x1="566.00" y1="361.50" x2="581.00" y2="361.50" stroke="#888" stroke-width="0.5" />
<line x1="566.00" y1="371.50" x2="581.00" y2="371.50" stroke="#888" stroke-width="0.5" />
<ellipse cx="561.8" cy="366.2" rx="2.8" ry="9" fill="none" stroke="#0a0a0a" stroke-width="2.0"/>
<ellipse cx="566.2" cy="366.2" rx="2.8" ry="9" fill="none" stroke="#1a1a1a" stroke-width="1.2"/>
<rect x="576.00" y="358.80" width="4.40" height="15.00" rx="0" fill="#3a3a3a" stroke="#111" stroke-width="0.5" />
<line x1="561.80" y1="357.50" x2="566.20" y2="357.50" stroke="#111" stroke-width="1.2" />
<line x1="561.80" y1="375.50" x2="566.20" y2="375.50" stroke="#111" stroke-width="1.2" />
<line x1="556.00" y1="366.50" x2="564.00" y2="366.50" stroke="#333" stroke-width="1.2" />
<rect x="580.50" y="353.50" width="12.00" height="26.00" rx="0" fill="#161616" stroke="#000" stroke-width="0.6" />
<rect x="592.50" y="355.50" width="40.00" height="21.00" rx="1" fill="#141414" stroke="#000" stroke-width="0.6" />
<line x1="583.00" y1="356.50" x2="590.50" y2="356.50" stroke="#999" stroke-width="0.5" />
<line x1="583.00" y1="376.50" x2="590.50" y2="376.50" stroke="#999" stroke-width="0.5" />
<line x1="595.00" y1="357.50" x2="612.00" y2="357.50" stroke="#bbb" stroke-width="0.6" />
<line x1="595.00" y1="374.50" x2="612.00" y2="374.50" stroke="#bbb" stroke-width="0.6" />
<line x1="624.00" y1="358.50" x2="631.00" y2="358.50" stroke="#bbb" stroke-width="0.6" />
<line x1="624.00" y1="374.50" x2="631.00" y2="374.50" stroke="#bbb" stroke-width="0.6" />
<rect x="582.50" y="362.00" width="8.50" height="8.60" rx="0" fill="#8f8f8f" stroke="#000" stroke-width="0.4" />
<line x1="584.50" y1="362.00" x2="584.50" y2="370.60" stroke="#1a1a1a" stroke-width="0.95" />
<line x1="586.50" y1="362.00" x2="586.50" y2="370.60" stroke="#1a1a1a" stroke-width="0.95" />
<line x1="589.50" y1="362.00" x2="589.50" y2="370.60" stroke="#1a1a1a" stroke-width="0.95" />
<rect x="594.20" y="361.60" width="5.40" height="9.40" rx="0" fill="#d8d8d8" stroke="#000" stroke-width="0.4" />
<rect x="595.60" y="364.70" width="2.80" height="3.20" rx="0" fill="#1a1a1a" stroke="#000" stroke-width="0.3" />
<line x1="597.50" y1="361.60" x2="597.50" y2="371.00" stroke="#222" stroke-width="0.7" />
<rect x="601.20" y="359.80" width="10.40" height="13.00" rx="0" fill="#f2f2f2" stroke="#000" stroke-width="0.4" />
<rect x="606.50" y="362.50" width="4.00" height="8.00" rx="1.6" fill="#fff" stroke="#333" stroke-width="0.6" />
<rect x="613.60" y="361.00" width="9.40" height="10.60" rx="2.5" fill="#e4e4e4" stroke="#000" stroke-width="0.4" />
<circle cx="618.40" cy="366.30" r="2.30" fill="#bbb" stroke="#222" stroke-width="0.8" />
<line x1="611.20" y1="366.50" x2="614.00" y2="366.50" stroke="#ddd" stroke-width="1" />
<rect x="625.00" y="361.60" width="6.20" height="9.40" rx="0" fill="#d4d4d4" stroke="#000" stroke-width="0.4" />
<circle cx="628.20" cy="366.30" r="1.50" fill="#222" stroke="#000" stroke-width="0.5" />
<line x1="512.40" y1="407.50" x2="560.00" y2="407.50" stroke="#262626" stroke-width="0.95" />
<line x1="512.40" y1="413.50" x2="560.00" y2="413.50" stroke="#262626" stroke-width="0.95" />
<line x1="512.40" y1="409.50" x2="560.00" y2="409.50" stroke="#999" stroke-width="0.4" />
<line x1="512.40" y1="412.50" x2="560.00" y2="412.50" stroke="#999" stroke-width="0.4" />
<rect x="510.50" y="408.50" width="5.00" height="4.00" rx="0" fill="none" stroke="#262626" stroke-width="0.95" />
<rect x="533.50" y="404.50" width="13.00" height="12.00" rx="2.5" fill="none" stroke="#333" stroke-width="0.95" />
<ellipse cx="534.6" cy="410.6" rx="2.2" ry="6.2" fill="none" stroke="#444" stroke-width="0.7"/>
<ellipse cx="544.6" cy="410.6" rx="2.2" ry="6.2" fill="none" stroke="#444" stroke-width="0.7"/>
<circle cx="539.50" cy="410.60" r="0.90" fill="#555" stroke="#262626" stroke-width="0.3" />
<line x1="563.00" y1="402.50" x2="581.00" y2="402.50" stroke="#262626" stroke-width="0.95" />
<line x1="563.00" y1="419.50" x2="581.00" y2="419.50" stroke="#262626" stroke-width="0.95" />
<line x1="566.00" y1="405.50" x2="581.00" y2="405.50" stroke="#888" stroke-width="0.5" />
<line x1="566.00" y1="415.50" x2="581.00" y2="415.50" stroke="#888" stroke-width="0.5" />
<ellipse cx="561.8" cy="410.6" rx="2.8" ry="9" fill="none" stroke="#0a0a0a" stroke-width="2.0"/>
<ellipse cx="566.2" cy="410.6" rx="2.8" ry="9" fill="none" stroke="#1a1a1a" stroke-width="1.2"/>
<rect x="576.00" y="403.20" width="4.40" height="15.00" rx="0" fill="#3a3a3a" stroke="#111" stroke-width="0.5" />
<line x1="561.80" y1="401.50" x2="566.20" y2="401.50" stroke="#111" stroke-width="1.2" />
<line x1="561.80" y1="419.50" x2="566.20" y2="419.50" stroke="#111" stroke-width="1.2" />
<line x1="556.00" y1="410.50" x2="564.00" y2="410.50" stroke="#333" stroke-width="1.2" />
<rect x="580.50" y="397.50" width="12.00" height="26.00" rx="0" fill="#161616" stroke="#000" stroke-width="0.6" />
<rect x="592.50" y="400.50" width="40.00" height="21.00" rx="1" fill="#141414" stroke="#000" stroke-width="0.6" />
<line x1="583.00" y1="400.50" x2="590.50" y2="400.50" stroke="#999" stroke-width="0.5" />
<line x1="583.00" y1="420.50" x2="590.50" y2="420.50" stroke="#999" stroke-width="0.5" />
<line x1="595.00" y1="402.50" x2="612.00" y2="402.50" stroke="#bbb" stroke-width="0.6" />
<line x1="595.00" y1="419.50" x2="612.00" y2="419.50" stroke="#bbb" stroke-width="0.6" />
<line x1="624.00" y1="402.50" x2="631.00" y2="402.50" stroke="#bbb" stroke-width="0.6" />
<line x1="624.00" y1="418.50" x2="631.00" y2="418.50" stroke="#bbb" stroke-width="0.6" />
<rect x="582.50" y="406.40" width="8.50" height="8.60" rx="0" fill="#8f8f8f" stroke="#000" stroke-width="0.4" />
<line x1="584.50" y1="406.40" x2="584.50" y2="415.00" stroke="#1a1a1a" stroke-width="0.95" />
<line x1="586.50" y1="406.40" x2="586.50" y2="415.00" stroke="#1a1a1a" stroke-width="0.95" />
<line x1="589.50" y1="406.40" x2="589.50" y2="415.00" stroke="#1a1a1a" stroke-width="0.95" />
<rect x="594.20" y="406.00" width="5.40" height="9.40" rx="0" fill="#d8d8d8" stroke="#000" stroke-width="0.4" />
<rect x="595.60" y="409.10" width="2.80" height="3.20" rx="0" fill="#1a1a1a" stroke="#000" stroke-width="0.3" />
<line x1="597.50" y1="406.00" x2="597.50" y2="415.40" stroke="#222" stroke-width="0.7" />
<rect x="601.20" y="404.20" width="10.40" height="13.00" rx="0" fill="#f2f2f2" stroke="#000" stroke-width="0.4" />
<rect x="606.50" y="407.50" width="4.00" height="7.00" rx="1.6" fill="#fff" stroke="#333" stroke-width="0.6" />
<rect x="613.60" y="405.40" width="9.40" height="10.60" rx="2.5" fill="#e4e4e4" stroke="#000" stroke-width="0.4" />
<circle cx="618.40" cy="410.70" r="2.30" fill="#bbb" stroke="#222" stroke-width="0.8" />
<line x1="611.20" y1="410.50" x2="614.00" y2="410.50" stroke="#ddd" stroke-width="1" />
<rect x="625.00" y="406.00" width="6.20" height="9.40" rx="0" fill="#d4d4d4" stroke="#000" stroke-width="0.4" />
<circle cx="628.20" cy="410.70" r="1.50" fill="#222" stroke="#000" stroke-width="0.5" />
<text transform="translate(375.20 231.00) scale(0.9 1)" font-size="14.80" letter-spacing="1.64" class="z">减震跷跷板</text>
<line x1="373.70" y1="233.50" x2="435.60" y2="233.50" stroke="#262626" stroke-width="0.95" />
<line x1="373.70" y1="233.60" x2="366.00" y2="286.40" stroke="#262626" stroke-width="0.8" />
<text transform="translate(485.80 227.50) scale(0.9 1)" font-size="14.60" letter-spacing="1.62" class="z">举升油泵</text>
<line x1="485.00" y1="229.50" x2="534.00" y2="229.50" stroke="#262626" stroke-width="0.95" />
<line x1="485.00" y1="229.60" x2="451.20" y2="287.40" stroke="#262626" stroke-width="0.8" />
<text transform="translate(747.20 249.20) scale(0.9 1)" font-size="14.60" letter-spacing="1.62" class="z">电池仓</text>
<line x1="747.00" y1="251.50" x2="786.00" y2="251.50" stroke="#262626" stroke-width="0.95" />
<line x1="747.00" y1="251.60" x2="694.00" y2="343.70" stroke="#262626" stroke-width="0.8" />
<text transform="translate(291.00 476.30) scale(0.9 1)" font-size="14.20" letter-spacing="1.58" class="z">舵轮</text>
<line x1="291.00" y1="479.50" x2="317.80" y2="479.50" stroke="#262626" stroke-width="0.95" />
<line x1="317.80" y1="479.20" x2="347.00" y2="411.50" stroke="#262626" stroke-width="0.8" />
<text transform="translate(415.60 476.30) scale(0.9 1)" font-size="14.40" letter-spacing="1.60" class="z">举升台</text>
<line x1="416.00" y1="479.50" x2="455.00" y2="479.50" stroke="#262626" stroke-width="0.95" />
<line x1="455.00" y1="479.20" x2="479.00" y2="409.50" stroke="#262626" stroke-width="0.8" />
<text transform="translate(597.60 468.30) scale(0.9 1)" font-size="14.40" letter-spacing="1.60" class="z">举升油缸</text>
<line x1="596.00" y1="472.50" x2="646.00" y2="472.50" stroke="#262626" stroke-width="0.95" />
<line x1="596.00" y1="472.00" x2="564.50" y2="413.50" stroke="#262626" stroke-width="0.8" />
</g>
<g id="model3d">
<defs>
<linearGradient id="gBore" x1="0" x2="1" y1="0" y2="0">
<stop offset="0" stop-color="#6d6570"/><stop offset="0.18" stop-color="#8a828d"/><stop offset="0.42" stop-color="#cfcad1"/><stop offset="0.6" stop-color="#a9a3ab"/><stop offset="0.85" stop-color="#8c848f"/><stop offset="1" stop-color="#6a636d"/>
</linearGradient>
<linearGradient id="gBlue" x1="0" x2="1" y1="0" y2="0">
<stop offset="0" stop-color="#1a1ad0"/><stop offset="0.22" stop-color="#2c2cff"/><stop offset="0.4" stop-color="#1010e8"/><stop offset="0.7" stop-color="#0a0ad8"/><stop offset="1" stop-color="#0505a8"/>
</linearGradient>
<linearGradient id="gGreen" x1="0" x2="0.25" y1="0" y2="1">
<stop offset="0" stop-color="#86f24a"/><stop offset="0.3" stop-color="#6fe92c"/><stop offset="0.48" stop-color="#9af766"/><stop offset="0.56" stop-color="#6ee628"/><stop offset="0.8" stop-color="#63dd1f"/><stop offset="1" stop-color="#58d018"/>
</linearGradient>
<linearGradient id="gRim" gradientUnits="userSpaceOnUse" x1="60" x2="250" y1="0" y2="0">
<stop offset="0" stop-color="#8c8c8c"/><stop offset="0.18" stop-color="#d8d8d8"/><stop offset="0.4" stop-color="#b4b4b4"/><stop offset="0.62" stop-color="#8e8e8e"/><stop offset="0.8" stop-color="#c8c8c8"/><stop offset="1" stop-color="#9a9a9a"/>
</linearGradient>
<linearGradient id="gCap" x1="0" x2="1" y1="0" y2="0">
<stop offset="0" stop-color="#9a9a9a"/><stop offset="0.55" stop-color="#cfcfcf"/><stop offset="0.75" stop-color="#b0b0b0"/><stop offset="1" stop-color="#7c7c7c"/>
</linearGradient>
<linearGradient id="gPin" x1="0" x2="1" y1="0" y2="0">
<stop offset="0" stop-color="#3a3a3a"/><stop offset="0.5" stop-color="#666"/><stop offset="1" stop-color="#2e2e2e"/>
</linearGradient>
<clipPath id="cBore"><ellipse cx="141.5" cy="294.3" rx="38.5" ry="12.8"/></clipPath>
</defs>
<path d="M74.5 330 L74.5 385" fill="none" stroke="#555" stroke-width="0.8" />
<polygon points="145.2,336.0 213.0,328.0 213.0,345.0 203.4,347.0 203.4,394.0 196.0,396.0 196.0,345.0 150.8,360.6 150.8,418.0 145.2,418.0" fill="#d9c5dd" stroke="#8a7a8e" stroke-width="0.6" stroke-linejoin="round" />
<polygon points="145.2,336.0 147.6,336.0 147.6,418.0 145.2,418.0" fill="#c9b3ce" stroke="none" stroke-width="0" stroke-linejoin="round" />
<polygon points="150.8,346.0 213.0,333.0 213.0,345.0 150.8,360.6" fill="#e0d0e4" stroke="#8a7a8e" stroke-width="0.5" stroke-linejoin="round" />
<polygon points="203.4,340.0 213.0,338.0 213.0,398.0 203.4,400.0" fill="#cdbad1" stroke="#7a6a7e" stroke-width="0.6" stroke-linejoin="round" />
<path d="M150 362 C155 374 158.5 389 158.8 403 C159 419 155 431 148.5 437.5 C141 443 131 445 124 443.5 C118 442 113 440 110 437.5" fill="none" stroke="#d4d4d4" stroke-width="3.2" />
<path d="M148.5 364 C153 376 156 390 156.3 403 C156.5 418 153 429 147 435.5 C140 440.5 131 442.5 124.5 441 C119 439.5 114 437.5 111 435" fill="none" stroke="#3a3a3a" stroke-width="0.9" />
<path d="M146.5 366 C150.5 377 153.6 391 153.8 403 C154 416 151 427 145.5 433 C139 438 131 440 125 438.5" fill="none" stroke="#777" stroke-width="0.7" />
<path d="M191.8 346.9 C198 358 203 375 203.2 391.4 C203.2 405 199.5 418 192.6 426" fill="none" stroke="#4a4a4a" stroke-width="2.2" />
<path d="M193.4 347.2 C199.6 358 204.6 375 204.8 391.4 C204.8 403 202 414 197 422" fill="none" stroke="#222" stroke-width="0.8" />
<path d="M150.8 360.6 L191.1 346.7 C197 358 201.5 375 201.6 391.4 C201.6 405 198 418 191.1 426 L149.7 439.6 C157 432 161 420 160.9 403 C160.5 388 156 372 150.8 360.6 Z" fill="url(#gGreen)" stroke="#1c5a08" stroke-width="0.8" />
<path d="M150.8 360.6 C156 372 160.5 388 160.9 403 C161 420 157 432 149.7 439 C143 444.5 133 446.8 127 444.8 C120 443 115 441 111.7 438.4" fill="none" stroke="#5ed81e" stroke-width="3.0" />
<path d="M150.8 360.6 C156 372 160.5 388 160.9 403 C161 420 157 432 149.7 439 C143 444.5 133 446.8 127 444.8 C120 443 115 441 111.7 438.4" fill="none" stroke="#1d650a" stroke-width="0.9" transform="translate(1.3 0.2)"/>
<path d="M150.8 360.6 C156 372 160.5 388 160.9 403 C161 420 157 432 149.7 439 C143 444.5 133 446.8 127 444.8 C120 443 115 441 111.7 438.4" fill="none" stroke="#2a7a10" stroke-width="0.8" transform="translate(-0.6 -0.2)"/>
<path d="M150.8 360.6 C156 372 160.5 388 160.9 403 C161 420 157 432 149.7 439 C143 444.5 133 446.8 127 444.8 C120 443 115 441 111.7 438.4" fill="none" stroke="#237010" stroke-width="0.7" transform="translate(-2 -0.5)"/>
<path d="M160.8 394.5 L201.4 380.5" fill="none" stroke="#a6f77c" stroke-width="1.6" opacity="0.55"/>
<path d="M160.9 400 L201.5 386" fill="none" stroke="#52cc1a" stroke-width="0.8" opacity="0.8"/>
<path d="M156.5 372 L197 357.5" fill="none" stroke="#98f56c" stroke-width="1.4" opacity="0.45"/>
<path d="M159.5 418 L197 405" fill="none" stroke="#7cf040" stroke-width="1.2" opacity="0.4"/>
<polygon points="209.2,372.0 227.1,380.0 227.1,433.4 209.2,428.3" fill="#8b8b8b" stroke="#3a3a3a" stroke-width="0.7" stroke-linejoin="round" />
<polygon points="227.1,380.0 245.0,372.0 245.0,428.3 227.1,433.4" fill="#8d8390" stroke="#3a3a3a" stroke-width="0.7" stroke-linejoin="round" />
<polygon points="222.6,378.0 227.1,380.0 227.1,433.4 222.6,432.2" fill="#5e5e5e" stroke="#333" stroke-width="0.5" stroke-linejoin="round" />
<polygon points="227.1,380.0 230.6,378.5 230.6,432.4 227.1,433.4" fill="#6d666f" stroke="#333" stroke-width="0.5" stroke-linejoin="round" />
<polygon points="203.6,365.7 209.2,361.2 243.9,361.2 250.6,366.4 250.1,374.0 227.1,381.3 204.7,374.6" fill="#1c1ce0" stroke="#0a0a70" stroke-width="0.8" stroke-linejoin="round" />
<polygon points="203.6,365.7 227.1,372.5 250.6,366.4 250.1,374.0 227.1,381.3 204.7,374.6" fill="#1515c8" stroke="#0a0a70" stroke-width="0.6" stroke-linejoin="round" />
<polygon points="227.1,372.5 250.6,366.4 250.1,374.0 227.1,381.3" fill="#2a2af0" stroke="#0a0a70" stroke-width="0.6" stroke-linejoin="round" />
<path d="M210 326 L210 365.5 A16.7 4.6 0 0 0 243.4 365.5 L243.4 326 Z" fill="url(#gBlue)" stroke="#0a0a80" stroke-width="0.8" />
<path d="M61 313.5 C61.5 322 72 331 92 336.5 C108 340.5 124 342.3 141 342.3 C172 342.3 195 337 207 330.5 C213 328 226 328.5 236 327.5 C247 326 249.5 320 248 313.5 C246 307 236 304 226 304 L200 300 L80 300 Z" fill="#fff" stroke="#666" stroke-width="0.7" />
<path d="M61 313.5 C61.5 322 72 331 92 336.5 C108 340.5 124 342.3 141 342.3 C172 342.3 195 337 207 330.5 C213 328 226 328.5 236 327.5 C247 326 249.5 320 248 313.5" fill="none" stroke="url(#gRim)" stroke-width="2.6" transform="translate(0 -0.6)"/>
<path d="M61 313.5 C61.5 322 72 331 92 336.5 C108 340.5 124 342.3 141 342.3 C172 342.3 195 337 207 330.5 C213 328 226 328.5 236 327.5 C247 326 249.5 320 248 313.5" fill="none" stroke="#555" stroke-width="0.7" transform="translate(0 0.9)"/>
<path d="M61 313.5 C61.5 322 72 331 92 336.5 C108 340.5 124 342.3 141 342.3 C172 342.3 195 337 207 330.5 C213 328 226 328.5 236 327.5 C247 326 249.5 320 248 313.5" fill="none" stroke="#8a8a8a" stroke-width="0.6" transform="translate(0 -2.2)"/>
<polygon points="145.0,343.8 176.0,342.0 207.0,332.5 213.0,330.0 213.0,336.0 152.0,354.0 145.0,350.0" fill="#dcc9e0" stroke="#8a7a8e" stroke-width="0.5" stroke-linejoin="round" />
<path d="M67.70000000000002 294.0 L67.70000000000002 310.5 A72.6 23.0 0 0 0 212.9 310.5 L212.9 294.0 A72.6 22.6 0 0 0 67.70000000000002 294.0 Z" fill="#474747" stroke="#2a2a2a" stroke-width="0.8" />
<path d="M212.90 294.80 L212.87 295.45 L212.87 310.86 L212.90 310.20 Z M212.75 296.25 L212.59 296.90 L212.59 312.34 L212.75 311.67 Z M212.30 297.69 L212.01 298.34 L212.01 313.80 L212.30 313.14 Z M211.56 299.12 L211.13 299.76 L211.13 315.25 L211.56 314.60 Z M210.53 300.53 L209.97 301.16 L209.97 316.67 L210.53 316.03 Z M209.20 301.92 L208.51 302.54 L208.51 318.07 L209.20 317.45 Z M207.59 303.28 L206.78 303.88 L206.78 319.44 L207.59 318.83 Z M205.71 304.61 L204.77 305.19 L204.77 320.77 L205.71 320.18 Z M203.56 305.89 L202.50 306.45 L202.50 322.06 L203.56 321.49 Z M201.15 307.13 L199.98 307.67 L199.98 323.30 L201.15 322.75 Z M198.48 308.32 L197.21 308.83 L197.21 324.48 L198.48 323.96 Z M195.58 309.45 L194.20 309.94 L194.20 325.61 L195.58 325.11 Z M192.45 310.52 L190.97 310.98 L190.97 326.67 L192.45 326.20 Z M189.11 311.53 L187.54 311.96 L187.54 327.67 L189.11 327.23 Z M185.57 312.47 L183.91 312.87 L183.91 328.59 L185.57 328.18 Z M181.84 313.34 L180.10 313.70 L180.10 329.44 L181.84 329.06 Z M177.94 314.13 L176.13 314.46 L176.13 330.20 L177.94 329.87 Z M173.88 314.84 L172.01 315.13 L172.01 330.89 L173.88 330.59 Z M169.69 315.47 L167.76 315.72 L167.76 331.49 L169.69 331.23 Z M165.37 316.01 L163.40 316.23 L163.40 332.00 L165.37 331.78 Z M160.96 316.47 L158.94 316.64 L158.94 332.43 L160.96 332.25 Z M156.46 316.83 L154.41 316.97 L154.41 332.76 L156.46 332.62 Z M151.89 317.11 L149.81 317.21 L149.81 333.00 L151.89 332.91 Z M147.27 317.30 L145.18 317.35 L145.18 333.15 L147.27 333.09 Z M142.63 317.39 L140.53 317.40 L140.53 333.20 L142.63 333.19 Z M137.97 317.39 L135.88 317.36 L135.88 333.16 L137.97 333.19 Z M133.33 317.30 L131.25 317.22 L131.25 333.02 L133.33 333.09 Z M128.71 317.11 L126.65 317.00 L126.65 332.79 L128.71 332.91 Z M124.14 316.83 L122.11 316.68 L122.11 332.47 L124.14 332.62 Z M119.64 316.47 L117.64 316.27 L117.64 332.05 L119.64 332.25 Z M115.23 316.01 L113.27 315.78 L113.27 331.55 L115.23 331.78 Z M110.91 315.47 L109.01 315.19 L109.01 330.95 L110.91 331.23 Z M106.72 314.84 L104.88 314.53 L104.88 330.28 L106.72 330.59 Z M102.66 314.13 L100.89 313.78 L100.89 329.52 L102.66 329.87 Z M98.76 313.34 L97.06 312.96 L97.06 328.68 L98.76 329.06 Z M95.03 312.47 L93.42 312.06 L93.42 327.76 L95.03 328.18 Z M91.49 311.53 L89.96 311.09 L89.96 326.77 L91.49 327.23 Z M88.15 310.52 L86.71 310.05 L86.71 325.72 L88.15 326.20 Z M85.02 309.45 L83.68 308.95 L83.68 324.60 L85.02 325.11 Z M82.12 308.32 L80.89 307.79 L80.89 323.42 L82.12 323.96 Z M79.45 307.13 L78.34 306.58 L78.34 322.19 L79.45 322.75 Z M77.04 305.89 L76.04 305.32 L76.04 320.90 L77.04 321.49 Z M74.89 304.61 L74.01 304.01 L74.01 319.58 L74.89 320.18 Z M73.01 303.28 L72.25 302.67 L72.25 318.21 L73.01 318.83 Z M71.40 301.92 L70.77 301.30 L70.77 316.81 L71.40 317.45 Z M70.07 300.53 L69.57 299.90 L69.57 315.39 L70.07 316.03 Z M69.04 299.12 L68.67 298.48 L68.67 313.94 L69.04 314.60 Z M68.30 297.69 L68.06 297.04 L68.06 312.48 L68.30 313.14 Z M67.85 296.25 L67.75 295.60 L67.75 311.01 L67.85 311.67 Z" fill="#868686" stroke="none"/>
<path d="M212.90 294.50 L212.90 310.50 M212.75 295.95 L212.75 311.97 M212.30 297.39 L212.30 313.44 M211.56 298.82 L211.56 314.90 M210.53 300.23 L210.53 316.33 M209.20 301.62 L209.20 317.75 M207.59 302.98 L207.59 319.13 M205.71 304.31 L205.71 320.48 M203.56 305.59 L203.56 321.79 M201.15 306.83 L201.15 323.05 M198.48 308.02 L198.48 324.26 M195.58 309.15 L195.58 325.41 M192.45 310.22 L192.45 326.50 M189.11 311.23 L189.11 327.53 M185.57 312.17 L185.57 328.48 M181.84 313.04 L181.84 329.36 M177.94 313.83 L177.94 330.17 M173.88 314.54 L173.88 330.89 M169.69 315.17 L169.69 331.53 M165.37 315.71 L165.37 332.08 M160.96 316.17 L160.96 332.55 M156.46 316.53 L156.46 332.92 M151.89 316.81 L151.89 333.21 M147.27 317.00 L147.27 333.39 M142.63 317.09 L142.63 333.49 M137.97 317.09 L137.97 333.49 M133.33 317.00 L133.33 333.39 M128.71 316.81 L128.71 333.21 M124.14 316.53 L124.14 332.92 M119.64 316.17 L119.64 332.55 M115.23 315.71 L115.23 332.08 M110.91 315.17 L110.91 331.53 M106.72 314.54 L106.72 330.89 M102.66 313.83 L102.66 330.17 M98.76 313.04 L98.76 329.36 M95.03 312.17 L95.03 328.48 M91.49 311.23 L91.49 327.53 M88.15 310.22 L88.15 326.50 M85.02 309.15 L85.02 325.41 M82.12 308.02 L82.12 324.26 M79.45 306.83 L79.45 323.05 M77.04 305.59 L77.04 321.79 M74.89 304.31 L74.89 320.48 M73.01 302.98 L73.01 319.13 M71.40 301.62 L71.40 317.75 M70.07 300.23 L70.07 316.33 M69.04 298.82 L69.04 314.90 M68.30 297.39 L68.30 313.44 M67.85 295.95 L67.85 311.97" fill="none" stroke="#1c1c1c" stroke-width="0.9"/>
<path d="M82.30000000000001 324.4 A72.6 23.0 0 0 0 198.3 324.4" fill="none" stroke="#3aa2e8" stroke-width="0.9" stroke-dasharray="3 2" opacity="0.9"/>
<ellipse cx="140.30" cy="294.00" rx="72.60" ry="22.60" fill="#5c5c5c" stroke="#2a2a2a" stroke-width="0.9" />
<ellipse cx="140.40" cy="290.60" rx="68.60" ry="22.90" fill="#d3d3d3" stroke="#3a3a3a" stroke-width="0.8" />
<ellipse cx="140.40" cy="290.40" rx="66.50" ry="21.90" fill="#d6d6d6" stroke="#b0b0b0" stroke-width="0.5" />
<ellipse cx="201.37" cy="293.14" rx="1.10" ry="0.75" fill="#1a1a1a" stroke="none" stroke-width="0" />
<ellipse cx="197.22" cy="298.23" rx="1.10" ry="0.75" fill="#1a1a1a" stroke="none" stroke-width="0" />
<ellipse cx="189.19" cy="302.80" rx="1.10" ry="0.75" fill="#1a1a1a" stroke="none" stroke-width="0" />
<ellipse cx="177.84" cy="306.53" rx="1.10" ry="0.75" fill="#1a1a1a" stroke="none" stroke-width="0" />
<ellipse cx="163.94" cy="309.16" rx="1.10" ry="0.75" fill="#1a1a1a" stroke="none" stroke-width="0" />
<ellipse cx="148.43" cy="310.53" rx="1.10" ry="0.75" fill="#1a1a1a" stroke="none" stroke-width="0" />
<ellipse cx="132.37" cy="310.53" rx="1.10" ry="0.75" fill="#1a1a1a" stroke="none" stroke-width="0" />
<ellipse cx="116.86" cy="309.16" rx="1.10" ry="0.75" fill="#1a1a1a" stroke="none" stroke-width="0" />
<ellipse cx="102.96" cy="306.53" rx="1.10" ry="0.75" fill="#1a1a1a" stroke="none" stroke-width="0" />
<ellipse cx="91.61" cy="302.80" rx="1.10" ry="0.75" fill="#1a1a1a" stroke="none" stroke-width="0" />
<ellipse cx="83.58" cy="298.23" rx="1.10" ry="0.75" fill="#1a1a1a" stroke="none" stroke-width="0" />
<ellipse cx="79.43" cy="293.14" rx="1.10" ry="0.75" fill="#1a1a1a" stroke="none" stroke-width="0" />
<ellipse cx="79.43" cy="287.86" rx="1.10" ry="0.75" fill="#1a1a1a" stroke="none" stroke-width="0" />
<ellipse cx="83.58" cy="282.77" rx="1.10" ry="0.75" fill="#1a1a1a" stroke="none" stroke-width="0" />
<ellipse cx="91.61" cy="278.20" rx="1.10" ry="0.75" fill="#1a1a1a" stroke="none" stroke-width="0" />
<ellipse cx="102.96" cy="274.47" rx="1.10" ry="0.75" fill="#1a1a1a" stroke="none" stroke-width="0" />
<ellipse cx="116.86" cy="271.84" rx="1.10" ry="0.75" fill="#1a1a1a" stroke="none" stroke-width="0" />
<ellipse cx="132.37" cy="270.47" rx="1.10" ry="0.75" fill="#1a1a1a" stroke="none" stroke-width="0" />
<ellipse cx="148.43" cy="270.47" rx="1.10" ry="0.75" fill="#1a1a1a" stroke="none" stroke-width="0" />
<ellipse cx="163.94" cy="271.84" rx="1.10" ry="0.75" fill="#1a1a1a" stroke="none" stroke-width="0" />
<ellipse cx="177.84" cy="274.47" rx="1.10" ry="0.75" fill="#1a1a1a" stroke="none" stroke-width="0" />
<ellipse cx="189.19" cy="278.20" rx="1.10" ry="0.75" fill="#1a1a1a" stroke="none" stroke-width="0" />
<ellipse cx="197.22" cy="282.77" rx="1.10" ry="0.75" fill="#1a1a1a" stroke="none" stroke-width="0" />
<ellipse cx="201.37" cy="287.86" rx="1.10" ry="0.75" fill="#1a1a1a" stroke="none" stroke-width="0" />
<ellipse cx="141.30" cy="290.60" rx="54.00" ry="18.60" fill="#a9a9a9" stroke="#2e2e2e" stroke-width="1.2" />
<ellipse cx="141.40" cy="291.60" rx="51.00" ry="17.20" fill="#cdcdcd" stroke="#666" stroke-width="0.7" />
<ellipse cx="186.65" cy="293.10" rx="2.20" ry="1.20" fill="#8f8f8f" stroke="#333" stroke-width="0.6" />
<ellipse cx="178.21" cy="300.49" rx="2.20" ry="1.20" fill="#8f8f8f" stroke="#333" stroke-width="0.6" />
<ellipse cx="159.91" cy="305.48" rx="2.20" ry="1.20" fill="#8f8f8f" stroke="#333" stroke-width="0.6" />
<ellipse cx="136.64" cy="306.72" rx="2.20" ry="1.20" fill="#8f8f8f" stroke="#333" stroke-width="0.6" />
<ellipse cx="114.66" cy="303.88" rx="2.20" ry="1.20" fill="#8f8f8f" stroke="#333" stroke-width="0.6" />
<ellipse cx="99.83" cy="297.72" rx="2.20" ry="1.20" fill="#8f8f8f" stroke="#333" stroke-width="0.6" />
<ellipse cx="96.15" cy="289.90" rx="2.20" ry="1.20" fill="#8f8f8f" stroke="#333" stroke-width="0.6" />
<ellipse cx="104.59" cy="282.51" rx="2.20" ry="1.20" fill="#8f8f8f" stroke="#333" stroke-width="0.6" />
<ellipse cx="122.89" cy="277.52" rx="2.20" ry="1.20" fill="#8f8f8f" stroke="#333" stroke-width="0.6" />
<ellipse cx="146.16" cy="276.28" rx="2.20" ry="1.20" fill="#8f8f8f" stroke="#333" stroke-width="0.6" />
<ellipse cx="168.14" cy="279.12" rx="2.20" ry="1.20" fill="#8f8f8f" stroke="#333" stroke-width="0.6" />
<ellipse cx="182.97" cy="285.28" rx="2.20" ry="1.20" fill="#8f8f8f" stroke="#333" stroke-width="0.6" />
<ellipse cx="141.50" cy="294.30" rx="38.50" ry="12.80" fill="url(#gBore)" stroke="#444" stroke-width="0.9" />
<g clip-path="url(#cBore)">
<ellipse cx="141.50" cy="312.00" rx="38.00" ry="12.80" fill="#fff" stroke="#555" stroke-width="0.7" />
<polygon points="152.5,303.6 166.0,300.6 171.0,303.0 158.0,306.4" fill="#d9b9e0" stroke="#9a7aa0" stroke-width="0.4" stroke-linejoin="round" />
</g>
<ellipse cx="181.59" cy="296.18" rx="1.00" ry="0.60" fill="#222" stroke="none" stroke-width="0" />
<ellipse cx="170.84" cy="302.54" rx="1.00" ry="0.60" fill="#222" stroke="none" stroke-width="0" />
<ellipse cx="152.24" cy="306.22" rx="1.00" ry="0.60" fill="#222" stroke="none" stroke-width="0" />
<ellipse cx="130.76" cy="306.22" rx="1.00" ry="0.60" fill="#222" stroke="none" stroke-width="0" />
<ellipse cx="112.16" cy="302.54" rx="1.00" ry="0.60" fill="#222" stroke="none" stroke-width="0" />
<ellipse cx="101.41" cy="296.18" rx="1.00" ry="0.60" fill="#222" stroke="none" stroke-width="0" />
<path d="M212.2 300 L212.2 316.5 A15.4 5.8 0 0 0 243.0 316.5 L243.0 300 Z" fill="#4b4b4b" stroke="#222" stroke-width="0.8" />
<path d="M242.92 301.58 L242.55 302.39 L242.55 317.59 L242.92 316.78 Z M241.87 303.18 L240.90 303.92 L240.90 319.12 L241.87 318.38 Z M239.66 304.61 L238.17 305.22 L238.17 320.42 L239.66 319.81 Z M236.47 305.74 L234.59 306.17 L234.59 321.37 L236.47 320.94 Z M232.57 306.49 L230.44 306.70 L230.44 321.90 L232.57 321.69 Z M228.26 306.79 L226.06 306.77 L226.06 321.97 L228.26 321.99 Z M223.90 306.63 L221.81 306.37 L221.81 321.57 L223.90 321.83 Z M219.84 306.01 L218.02 305.54 L218.02 320.74 L219.84 321.21 Z M216.40 304.98 L215.01 304.34 L215.01 319.54 L216.40 320.18 Z M213.88 303.63 L213.02 302.87 L213.02 318.07 L213.88 318.83 Z M212.46 302.07 L212.21 301.25 L212.21 316.45 L212.46 317.27 Z" fill="#909090" stroke="none"/>
<path d="M242.92 301.08 L242.92 317.08 M241.87 302.68 L241.87 318.68 M239.66 304.11 L239.66 320.11 M236.47 305.24 L236.47 321.24 M232.57 305.99 L232.57 321.99 M228.26 306.29 L228.26 322.29 M223.90 306.13 L223.90 322.13 M219.84 305.51 L219.84 321.51 M216.40 304.48 L216.40 320.48 M213.88 303.13 L213.88 319.13 M212.46 301.57 L212.46 317.57" fill="none" stroke="#1a1a1a" stroke-width="1"/>
<ellipse cx="227.60" cy="300.00" rx="15.40" ry="5.80" fill="#c4c4c4" stroke="#222" stroke-width="1.0" stroke-dasharray="2.2 1.4"/>
<ellipse cx="227.60" cy="300.00" rx="14.10" ry="5.10" fill="#c8c8c8" stroke="#999" stroke-width="0.4" />
<ellipse cx="227.20" cy="299.80" rx="4.20" ry="1.90" fill="#7a7a7a" stroke="#333" stroke-width="0.8" />
<path d="M218.6 321.0 A9 3.2 0 0 0 236.6 321.0" fill="none" stroke="#9a9a9a" stroke-width="1.6" />
<polygon points="79.6,354.0 88.5,351.3 133.2,367.5 133.2,431.0 128.7,433.2 121.0,435.0 121.0,367.3 79.6,360.0" fill="#8e8e8e" stroke="#3a3a3a" stroke-width="0.7" stroke-linejoin="round" />
<polygon points="79.6,354.0 88.5,351.3 133.2,367.5 128.7,369.8" fill="#a9a9a9" stroke="#3a3a3a" stroke-width="0.6" stroke-linejoin="round" />
<polygon points="128.7,369.8 133.2,367.5 133.2,431.0 128.7,433.2" fill="#8c828e" stroke="#3a3a3a" stroke-width="0.6" stroke-linejoin="round" />
<polygon points="32.9,376.3 79.6,359.8 122.0,367.3 64.4,387.3" fill="#a3a3a3" stroke="#3a3a3a" stroke-width="0.7" stroke-linejoin="round" />
<polygon points="64.4,387.3 122.0,367.3 122.0,426.5 64.4,449.6" fill="#8c828f" stroke="#3a3a3a" stroke-width="0.7" stroke-linejoin="round" />
<polygon points="66.0,392.2 120.5,373.2 120.5,379.2 66.0,398.2" fill="#7d7380" stroke="#4a444c" stroke-width="0.5" stroke-linejoin="round" />
<polygon points="66.0,398.2 120.5,379.2 120.5,382.6 66.0,401.6" fill="#b7afba" stroke="none" stroke-width="0" stroke-linejoin="round" />
<polygon points="66.0,401.6 120.5,382.6 120.5,384.6 66.0,403.6" fill="#9a909d" stroke="none" stroke-width="0" stroke-linejoin="round" />
<polygon points="73.2,403.6 121.0,386.8 121.0,422.0 73.2,440.5" fill="#8b818e" stroke="#4a444c" stroke-width="0.6" stroke-linejoin="round" />
<polygon points="64.4,441.8 73.2,438.8 73.2,446.4 64.4,449.6" fill="#7f7782" stroke="#3a3a3a" stroke-width="0.5" stroke-linejoin="round" />
<polygon points="120.8,367.6 128.7,369.8 128.7,381.0 120.8,383.0" fill="#9a9a9a" stroke="#3a3a3a" stroke-width="0.6" stroke-linejoin="round" />
<ellipse cx="124.20" cy="375.20" rx="1.60" ry="2.10" fill="#e2e2e2" stroke="#333" stroke-width="0.7" />
<polygon points="120.8,424.6 128.7,422.6 128.7,433.2 120.8,435.0" fill="#9a9a9a" stroke="#3a3a3a" stroke-width="0.6" stroke-linejoin="round" />
<ellipse cx="124.60" cy="428.80" rx="1.40" ry="1.80" fill="#e2e2e2" stroke="#333" stroke-width="0.7" />
<polygon points="24.4,383.4 31.8,381.9 32.9,376.3 64.4,387.3 64.4,449.8 32.9,438.9 24.4,426.6" fill="#8c8c8e" stroke="#3a3a3a" stroke-width="0.7" stroke-linejoin="round" />
<path d="M31.8 381.9 L34.5 382.8 L35.2 377.2" fill="none" stroke="#555" stroke-width="0.5" />
<g transform="translate(-0.6 1.6) rotate(-12 44 413.5)">
<path d="M42 396.2 L49.5 396.2 A13 17.6 0 0 1 49.5 431.4 L42 431.4 Z" fill="url(#gCap)" stroke="#3a3a3a" stroke-width="0.8" />
<ellipse cx="43.60" cy="413.80" rx="13.00" ry="17.40" fill="none" stroke="#dadada" stroke-width="0.9" />
<ellipse cx="42.00" cy="413.80" rx="13.00" ry="17.40" fill="#8f8f8f" stroke="#3a3a3a" stroke-width="0.8" />
<ellipse cx="42.00" cy="413.80" rx="11.90" ry="16.20" fill="#909090" stroke="#7a7a7a" stroke-width="0.5" />
</g>
<path d="M105 352 Q112 349 121.8 350 Q130 354 134 364.6 Q139.5 376 139.7 388 Q140 399 138.5 409 Q136 421 130.5 427.5 Q122 435 111.7 437" fill="none" stroke="#3aa2e8" stroke-width="0.8" />
<ellipse cx="124.00" cy="356.80" rx="1.40" ry="1.90" fill="#fff" stroke="#444" stroke-width="0.7" />
<ellipse cx="135.60" cy="373.50" rx="1.40" ry="1.90" fill="#fff" stroke="#444" stroke-width="0.7" />
<ellipse cx="141.40" cy="393.70" rx="1.40" ry="1.90" fill="#fff" stroke="#444" stroke-width="0.7" />
<ellipse cx="141.40" cy="412.70" rx="1.40" ry="1.90" fill="#fff" stroke="#444" stroke-width="0.7" />
<ellipse cx="140.80" cy="426.00" rx="1.40" ry="1.90" fill="#fff" stroke="#444" stroke-width="0.7" />
<ellipse cx="129.60" cy="435.20" rx="1.40" ry="1.90" fill="#fff" stroke="#444" stroke-width="0.7" />
<ellipse cx="94.30" cy="347.00" rx="1.40" ry="1.90" fill="#fff" stroke="#444" stroke-width="0.7" />
<path d="M124.5 347.5 q1.5 5 8.5 8.5" fill="none" stroke="#333" stroke-width="0.9" />
<path d="M121 345 l4 0 l0 2.5" fill="none" stroke="#555" stroke-width="1.0" />
<path d="M106.5 345.5 q4 -1.6 7 0.6 M115 346 q3 -1 5 1" fill="none" stroke="#3aa2e8" stroke-width="1.0" />
<ellipse cx="109.50" cy="347.40" rx="1.40" ry="1.50" fill="none" stroke="#3aa2e8" stroke-width="0.8" />
</g>
</svg>
</body>
</html>
